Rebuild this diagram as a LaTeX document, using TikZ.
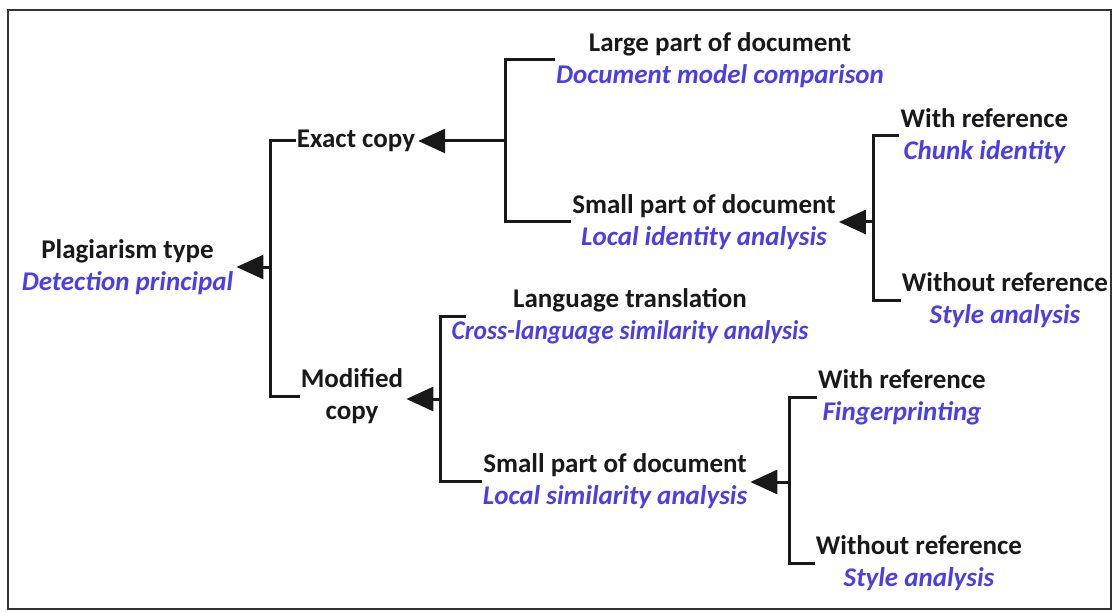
\documentclass[tikz,border=0pt]{standalone}
\usepackage{fontspec}
\setmainfont{Carlito}
\usetikzlibrary{arrows.meta}
\definecolor{labelblue}{RGB}{75,62,228}
\definecolor{inkblack}{RGB}{25,25,25}
\newcommand\twoline[2]{#1\\{\itshape\color{labelblue}#2}}
\tikzset{
  term/.style={align=center, inner sep=1pt, text=inkblack,
    font=\fontsize{27}{32}\selectfont\bfseries},
  link/.style={line width=3pt, draw=inkblack},
  pointer/.style={link, -{Triangle[length=27pt,width=24pt]}, shorten >=2pt},
}
\begin{document}
\begin{tikzpicture}[x=1pt, y=-1pt]
  \useasboundingbox (0,0) rectangle (1115,612);
  \draw[line width=2.5pt, draw=black!80] (8,10) rectangle (1111,609);

  % tree nodes
  \node[term] (plag)  at (127.5,267) {\twoline{Plagiarism type}{Detection principal}};
  \node[term] (exact) at (356,141)   {Exact copy};
  \node[term] (modif) at (352,396)   {Modified\\copy};
  \node[term] (large) at (720,60)    {\twoline{Large part of document}{Document model comparison}};
  \node[term] (smallA) at (704,222)  {\twoline{Small part of document}{Local identity analysis}};
  \node[term] (withA) at (984.5,136) {\twoline{With reference}{Chunk identity}};
  \node[term] (woA)   at (1005,300)  {\twoline{Without reference}{Style analysis}};
  \node[term] (lang)  at (630,316)   {\twoline{Language translation}{\addfontfeature{FakeStretch=0.94}Cross-language similarity analysis}};
  \node[term] (smallB) at (615,481)  {\twoline{Small part of document}{Local similarity analysis}};
  \node[term] (withB) at (902,397)   {\twoline{With reference}{Fingerprinting}};
  \node[term] (woB)   at (919,563)   {\twoline{Without reference}{Style analysis}};

  % junctions on the vertical brackets
  \coordinate (j0) at (270,267);
  \coordinate (j1) at (505,141);
  \coordinate (j2) at (873,222);
  \coordinate (j3) at (440,399);
  \coordinate (j4) at (789,482);
  \coordinate (langin) at ([xshift=16pt]lang.west);

  % brackets
  \draw[link] (exact.west) -| (j0) |- (modif.west);
  \draw[link] (large.west) -| (j1) |- (smallA.west);
  \draw[link] (withA.west) -| (j2) |- (woA.west);
  \draw[link] (langin)     -| (j3) |- (smallB.west);
  \draw[link] (withB.west) -| (j4) |- (woB.west);

  % arrows back to the parent
  \draw[pointer] (j0) -- (plag.east |- j0);
  \draw[pointer] (j1) -- (exact.east |- j1);
  \draw[pointer] (j2) -- (smallA.east |- j2);
  \draw[pointer] (j3) -- (modif.east |- j3);
  \draw[pointer] (j4) -- (smallB.east |- j4);
\end{tikzpicture}
\end{document}
